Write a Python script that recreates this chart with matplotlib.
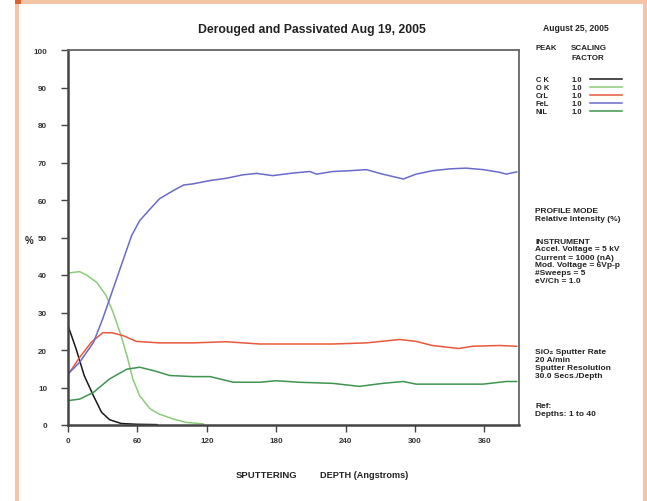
import numpy as np
import matplotlib
matplotlib.use("Agg")
import matplotlib.pyplot as plt
from matplotlib.patches import Rectangle

# ---- data ----
ck_x = [0, 7, 14, 22, 29, 36, 46, 59, 77]
ck_y = [26.5, 20.3, 13.2, 7.8, 3.4, 1.4, 0.4, 0.2, 0.1]

ok_x = [0, 10, 16, 25, 33, 39, 45, 51, 56, 62, 71, 79, 91, 102, 117]
ok_y = [40.5, 40.9, 40.0, 38.0, 34.5, 30.0, 24.7, 18.5, 12.3, 7.8, 4.3, 2.9, 1.6, 0.7, 0.3]

crl_x = [0, 10, 20, 30, 38, 48, 59, 79, 108, 137, 166, 200, 229, 258, 287, 301, 315, 338, 350, 373, 388]
crl_y = [13.4, 18.0, 22.0, 24.6, 24.6, 23.8, 22.3, 21.9, 21.9, 22.2, 21.6, 21.6, 21.6, 21.9, 22.8, 22.3, 21.2, 20.4, 21.0, 21.2, 21.0]

fel_x = [0, 10, 22, 30, 39, 48, 55, 62, 71, 79, 91, 100, 108, 123, 137, 151, 163, 177, 195,
         209, 215, 229, 243, 258, 272, 290, 301, 315, 330, 344, 359, 373, 379, 388]
fel_y = [13.6, 16.7, 22.0, 28.3, 36.3, 44.3, 50.5, 54.5, 57.6, 60.3, 62.5, 64.0, 64.3, 65.2, 65.8, 66.7, 67.1, 66.5, 67.2,
         67.6, 66.9, 67.6, 67.8, 68.1, 66.9, 65.6, 66.9, 67.8, 68.3, 68.5, 68.1, 67.4, 66.9, 67.5]

nil_x = [0, 10, 22, 36, 51, 62, 74, 88, 108, 123, 143, 166, 180, 200, 229, 252, 272, 290, 301, 330, 359, 379, 388]
nil_y = [6.5, 6.9, 8.7, 12.3, 14.9, 15.4, 14.5, 13.2, 12.9, 12.9, 11.4, 11.4, 11.8, 11.4, 11.1, 10.3, 11.1, 11.6, 10.9, 10.9, 10.9, 11.6, 11.6]

peaks = ["C K", "O K", "CrL", "FeL", "NiL"]
factors = ["1.0", "1.0", "1.0", "1.0", "1.0"]
colors = ["#1a1a1a", "#8ccc78", "#e8583c", "#6a6acc", "#3f9450"]
series = [(ck_x, ck_y), (ok_x, ok_y), (crl_x, crl_y), (fel_x, fel_y), (nil_x, nil_y)]

xticks = [0, 60, 120, 180, 240, 300, 360]
yticks = [0, 10, 20, 30, 40, 50, 60, 70, 80, 90, 100]

W, H = 647, 502
fig = plt.figure(figsize=(W / 100, H / 100), dpi=100)
fig.patch.set_facecolor("white")
plt.rcParams['font.family'] = ['Liberation Sans', 'DejaVu Sans']

def px(x, y):
    return x / W, 1 - y / H

# peach border
peach = "#f3c5a6"
fig.patches.append(Rectangle(px(15, 5), (W - 15) / W, 5 / H, transform=fig.transFigure,
                             facecolor=peach, edgecolor="none", zorder=0))
fig.patches.append(Rectangle(px(15, H), 4 / W, (H - 5) / H, transform=fig.transFigure,
                             facecolor=peach, edgecolor="none", zorder=0))
fig.patches.append(Rectangle(px(643, H), 4 / W, (H - 5) / H, transform=fig.transFigure,
                             facecolor=peach, edgecolor="none", zorder=0))
fig.patches.append(Rectangle(px(15, 5), 6 / W, 5 / H, transform=fig.transFigure,
                             facecolor="#e0602a", edgecolor="none", zorder=1))

ax = fig.add_axes([68 / W, 1 - 426 / H, 451 / W, 375 / H])
for (xs, ys), c in zip(series, colors):
    ax.plot(xs, ys, color=c, lw=1.1)

ax.set_xlim(0, 390)
ax.set_ylim(0, 100)
ax.set_xticks(xticks)
ax.set_yticks(yticks)
ax.tick_params(axis="both", direction="out", length=5, width=1, color="#444", labelsize=5.8)
ax.tick_params(axis="y", pad=10)
ax.tick_params(axis="x", pad=4)
for lab in ax.get_xticklabels() + ax.get_yticklabels():
    lab.set_fontweight("bold")
    lab.set_color("#333")
for s in ax.spines.values():
    s.set_color("#666")
    s.set_linewidth(1.3)
ax.spines["left"].set_linewidth(1.8)
ax.spines["left"].set_color("#444")
ax.spines["bottom"].set_linewidth(1.8)
ax.spines["bottom"].set_color("#444")

tk = dict(fontweight="bold", color="#222")
fig.text(*px(312, 30), "Derouged and Passivated Aug 19, 2005", ha="center", va="center", fontsize=8.8, **tk)
fig.text(*px(576, 29), "August 25, 2005", ha="center", va="center", fontsize=6.2, **tk)
fig.text(*px(535, 49), "PEAK", ha="left", va="center", fontsize=5.6, **tk)
fig.text(*px(571, 49), "SCALING", ha="left", va="center", fontsize=5.8, **tk)
fig.text(*px(571, 58), "FACTOR", ha="left", va="center", fontsize=5.8, **tk)

row_y = [80, 88, 96, 104, 112]
for p, f, c, yy in zip(peaks, factors, colors, row_y):
    fig.text(*px(536, yy), p, ha="left", va="center", fontsize=5.4, **tk)
    fig.text(*px(572, yy), f, ha="left", va="center", fontsize=5.4, **tk)
    x0, y0 = px(590, yy)
    x1, _ = px(622, yy)
    fig.add_artist(plt.Line2D([x0, x1], [y0, y0], transform=fig.transFigure, color=c, lw=1.1))

info = [
    (211.5, "PROFILE MODE"), (219.5, "Relative Intensity (%)"),
    (242, "INSTRUMENT"), (250, "Accel. Voltage = 5 kV"), (258, "Current = 1000 (nA)"),
    (266, "Mod. Voltage = 6Vp-p"), (274, "#Sweeps = 5"), (282, "eV/Ch = 1.0"),
    (352, "SiO\u2082 Sputter Rate"), (360, "20 A/min"), (368.5, "Sputter Resolution"),
    (377, "30.0 Secs./Depth"), (407, "Ref:"), (415, "Depths: 1 to 40"),
]
for yy, t in info:
    fig.text(*px(535, yy), t, ha="left", va="center", fontsize=6.0, **tk)

fig.text(*px(29, 241), "%", ha="center", va="center", fontsize=7, **tk)
fig.text(*px(267, 476), "SPUTTERING", ha="center", va="center", fontsize=6.8, **tk)
fig.text(*px(364, 476), "DEPTH (Angstroms)", ha="center", va="center", fontsize=6.6, **tk)

fig.savefig("out.png", dpi=100)
